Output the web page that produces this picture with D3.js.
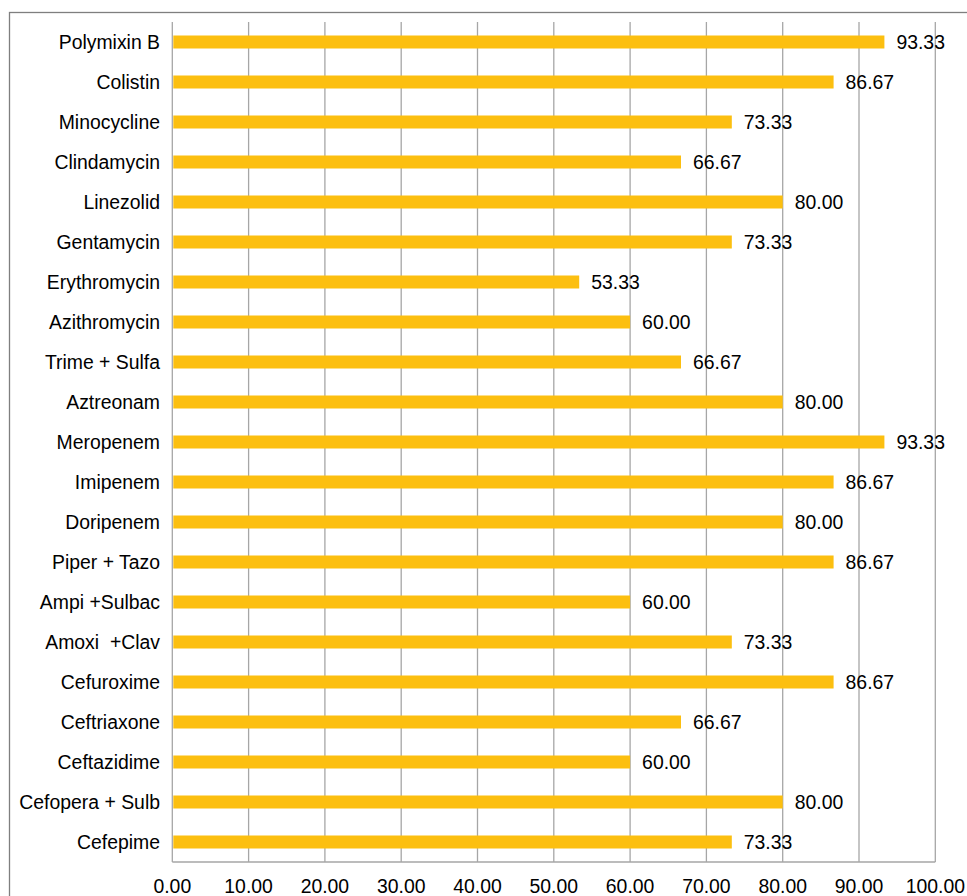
<!DOCTYPE html>
<html><head><meta charset="utf-8">
<script src="https://cdn.jsdelivr.net/npm/d3@7"></script>
<style>body{margin:0;background:#fff}svg{display:block}text{font-family:"Liberation Sans",Arial,sans-serif;fill:#000}</style>
</head><body>
<script>
const categories = ["Polymixin B","Colistin","Minocycline","Clindamycin","Linezolid","Gentamycin","Erythromycin","Azithromycin","Trime + Sulfa","Aztreonam","Meropenem","Imipenem","Doripenem","Piper + Tazo","Ampi +Sulbac","Amoxi  +Clav","Cefuroxime","Ceftriaxone","Ceftazidime","Cefopera + Sulb","Cefepime"];
const values = [93.33,86.67,73.33,66.67,80.00,73.33,53.33,60.00,66.67,80.00,93.33,86.67,80.00,86.67,60.00,73.33,86.67,66.67,60.00,80.00,73.33];
const xTicks = [0,10,20,30,40,50,60,70,80,90,100];

const W=967,H=896;
const svg=d3.select("body").append("svg").attr("width",W).attr("height",H);
const pL=172.3,pR=935.3,pT=22,pB=862;
const x=d3.scaleLinear().domain([0,100]).range([pL,pR]);
const y=d3.scaleBand().domain(categories).range([pT,pB]).paddingInner(0.675).paddingOuter(0.3375);
const fs=19.4;

// outer border
svg.append("rect").attr("x",9.5).attr("y",12.5).attr("width",W+20).attr("height",H+20)
  .attr("fill","none").attr("stroke","#7f7f7f").attr("stroke-width",1.3);

// grid
svg.append("g").selectAll("line").data(xTicks).join("line")
  .attr("x1",d=>x(d)).attr("x2",d=>x(d)).attr("y1",pT).attr("y2",pB)
  .attr("stroke","#a6a6a6").attr("stroke-width",1.3);
svg.append("line").attr("x1",pL).attr("x2",pR).attr("y1",pB).attr("y2",pB)
  .attr("stroke","#a6a6a6").attr("stroke-width",1.3);

// bars
svg.append("g").selectAll("rect").data(values).join("rect")
  .attr("x",x(0)+1).attr("y",(d,i)=>y(categories[i]))
  .attr("width",d=>x(d)-x(0)-1).attr("height",y.bandwidth())
  .attr("fill","#fcbf10");

// value labels
svg.append("g").selectAll("text").data(values).join("text")
  .attr("x",d=>x(d)+12).attr("y",(d,i)=>y(categories[i])+y.bandwidth()/2)
  .attr("dy","0.35em").attr("font-size",fs).text(d=>d.toFixed(2));

// category labels
svg.append("g").selectAll("text").data(categories).join("text")
  .attr("x",160).attr("y",d=>y(d)+y.bandwidth()/2).attr("dy","0.35em")
  .attr("text-anchor","end").attr("font-size",fs).style("white-space","pre").text(d=>d);

// x tick labels
svg.append("g").selectAll("text").data(xTicks).join("text")
  .attr("x",d=>x(d)).attr("y",886).attr("dy","0.35em").attr("text-anchor","middle")
  .attr("font-size",fs).text(d=>d.toFixed(2));
</script>
</body></html>
